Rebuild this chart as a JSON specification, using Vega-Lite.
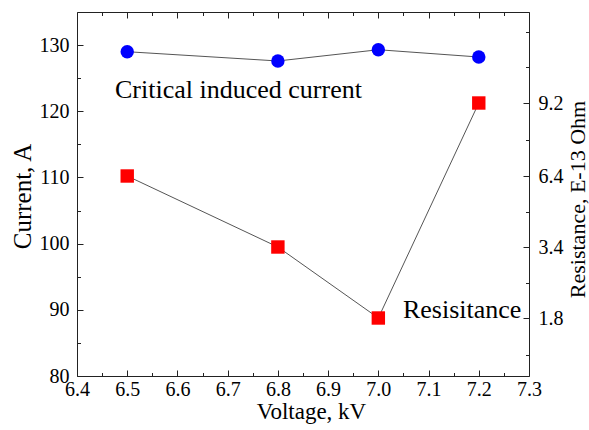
{
  "$schema": "https://vega.github.io/schema/vega-lite/v6.json",
  "width": 452,
  "height": 364,
  "autosize": {"type": "none"},
  "padding": {"left": 77, "top": 12, "right": 60, "bottom": 54},
  "background": "white",
  "config": {
    "font": "Liberation Serif",
    "view": {"stroke": null},
    "axis": {
      "labelFont": "Liberation Serif",
      "titleFont": "Liberation Serif",
      "labelFontSize": 20,
      "titleFontSize": 25,
      "labelColor": "#000",
      "titleColor": "#000",
      "titleFontWeight": "normal",
      "domainColor": "#222",
      "tickColor": "#222",
      "domainWidth": 1,
      "tickWidth": 1,
      "grid": false
    }
  },
  "layer": [
    {
      "data": {"values": [
        {"voltage": 6.5, "current": 129.0},
        {"voltage": 6.8, "current": 127.6},
        {"voltage": 7.0, "current": 129.3},
        {"voltage": 7.2, "current": 128.2}
      ]},
      "encoding": {
        "x": {
          "field": "voltage", "type": "quantitative",
          "scale": {"domain": [6.4, 7.3], "nice": false, "zero": false},
          "axis": {
            "orient": "bottom",
            "values": [6.4, 6.45, 6.5, 6.55, 6.6, 6.65, 6.7, 6.75, 6.8, 6.85, 6.9, 6.95, 7.0, 7.05, 7.1, 7.15, 7.2, 7.25, 7.3],
            "labelExpr": "abs(datum.value*10 - round(datum.value*10)) < 0.01 ? format(datum.value, '.1f') : ''",
            "tickSize": {"condition": {"test": "abs(datum.value*10 - round(datum.value*10)) < 0.01", "value": -6}, "value": -3.5},
            "labelPadding": 9,
            "labelFlush": false,
            "labelOverlap": false,
            "title": "Voltage, kV",
            "titleFontSize": 23,
            "titleX": 234,
            "titleY": 42,
            "titleAlign": "center",
            "titleBaseline": "alphabetic"
          }
        },
        "y": {
          "field": "current", "type": "quantitative",
          "scale": {"domain": [80, 135], "nice": false, "zero": false},
          "axis": {
            "orient": "left",
            "values": [80, 85, 90, 95, 100, 105, 110, 115, 120, 125, 130],
            "labelExpr": "datum.value % 10 === 0 ? datum.label : ''",
            "tickSize": {"condition": {"test": "datum.value % 10 === 0", "value": -6}, "value": -3.5},
            "labelPadding": 14,
            "labelOverlap": false,
            "title": "Current, A",
            "titleAngle": 270,
            "titleX": -55,
            "titleY": 184,
            "titleAlign": "center",
            "titleBaseline": "middle"
          }
        }
      },
      "layer": [
        {"mark": {"type": "line", "color": "#555", "strokeWidth": 1}},
        {"mark": {"type": "point", "shape": "circle", "filled": true, "opacity": 1, "color": "#0000ff", "size": 180}},
        {
          "data": {"values": [
            {"voltage": 6.4757, "current": 122.0, "label": "Critical induced current"},
            {"voltage": 7.049, "current": 88.76, "label": "Resisitance"}
          ]},
          "mark": {"type": "text", "align": "left", "baseline": "alphabetic", "fontSize": 26, "font": "Liberation Serif", "color": "#000"},
          "encoding": {"text": {"field": "label"}}
        }
      ]
    },
    {
      "data": {"values": [
        {"voltage": 6.5, "resistance": 6.4},
        {"voltage": 6.8, "resistance": 3.4},
        {"voltage": 7.0, "resistance": 1.8},
        {"voltage": 7.2, "resistance": 9.2}
      ]},
      "encoding": {
        "x": {
          "field": "voltage", "type": "quantitative",
          "scale": {"domain": [6.4, 7.3], "nice": false, "zero": false},
          "axis": {
            "orient": "top",
            "values": [6.4, 6.45, 6.5, 6.55, 6.6, 6.65, 6.7, 6.75, 6.8, 6.85, 6.9, 6.95, 7.0, 7.05, 7.1, 7.15, 7.2, 7.25, 7.3],
            "labels": false,
            "tickSize": {"condition": {"test": "abs(datum.value*10 - round(datum.value*10)) < 0.01", "value": -6}, "value": -3.5},
            "title": null
          }
        },
        "y": {
          "field": "resistance", "type": "quantitative",
          "scale": {"domain": [0.55, 1.8, 3.4, 6.4, 9.2, 11.75], "range": [364, 306, 235, 164, 91, 0], "nice": false, "zero": false},
          "axis": {
            "orient": "right",
            "values": [1.0, 1.8, 2.6, 3.4, 4.9, 6.4, 7.8, 9.2, 10.2, 11.2],
            "labelExpr": "indexof([1.8, 3.4, 6.4, 9.2], datum.value) >= 0 ? format(datum.value, '.1f') : ''",
            "tickSize": {"condition": {"test": "indexof([1.8, 3.4, 6.4, 9.2], datum.value) >= 0", "value": -6}, "value": -3.5},
            "labelPadding": 15,
            "labelOverlap": false,
            "title": "Resistance, E-13 Ohm",
            "titleFontSize": 22,
            "titleAngle": 270,
            "titleX": 48,
            "titleY": 187,
            "titleAlign": "center",
            "titleBaseline": "middle"
          }
        }
      },
      "layer": [
        {"mark": {"type": "line", "color": "#555", "strokeWidth": 1}},
        {"mark": {"type": "point", "shape": "square", "filled": true, "opacity": 1, "color": "#ff0000", "size": 180}}
      ]
    }
  ],
  "resolve": {"scale": {"y": "independent"}}
}
